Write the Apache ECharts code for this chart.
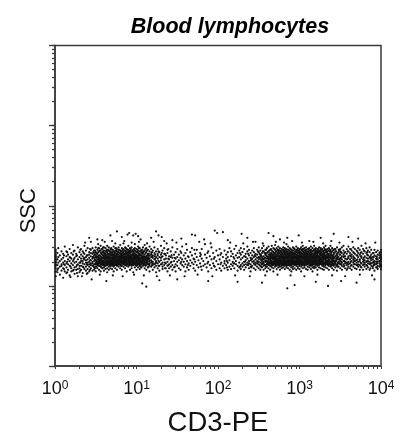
<!DOCTYPE html>
<html><head><meta charset="utf-8">
<style>html,body{margin:0;background:#fff}#c{width:401px;height:432px}</style>
<script src="https://cdn.jsdelivr.net/npm/echarts@6/dist/echarts.min.js"></script></head>
<body><div id="c"></div>
<script>
const titleText = 'Blood lymphocytes';
const xName = 'CD3-PE';
const yName = 'SSC';
const xTickLabels = {1:'0',10:'1',100:'2',1000:'3',10000:'4'};
const decadeTicks = [1,10,100,1000,10000];
const allTicks = [1,2,3,4,5,6,7,8,9,10,20,30,40,50,60,70,80,90,100,200,300,400,500,600,700,800,900,1000,2000,3000,4000,5000,6000,7000,8000,9000,10000];
// Each row: CD3-PE position, then SSC positions, both in hundredths of a decade.
const negativeEvents = [
[1,112,118,122,125,127,129,131,133,135,137,139,142,145],[3,120,126,133,141,117],[4,129,122,147,136],[6,124,131,138,114],[8,127,143,119,133,125],
[10,135,122,129,110,140],[12,118,131,126,149],[14,137,123,128,143,116],[16,133,120,127,139],[18,125,146,131,113,136],
[20,128,122,141,134,118],[22,139,126,131,151,119],[24,123,135,129,144,115],[26,130,124,140,137,120],[28,127,133,148,121,112],
[30,136,122,129,142,125,117],[32,131,125,139,146,120,134],[34,124,137,128,143,116,131],[36,133,127,121,140,135,150],[38,129,144,124,136,119,132],
[40,126,138,133,121,147,129,116],[42,135,130,124,142,127,139,118],[44,128,137,122,145,132,126,141,155],[46,134,125,140,130,119,147,136,128],[48,131,138,123,127,144,135,120,141],
[50,129,136,124,142,132,127,148,118,139],[52,133,126,140,130,137,122,145,128,158],[54,125,135,131,143,128,138,120,147,133],[56,137,129,124,141,134,127,150,118,132,144],[58,130,139,126,135,122,146,132,128,142],
[60,134,127,141,131,137,123,148,129,136,119,144],[62,128,138,133,125,143,130,135,121,147,140],[64,136,131,126,142,128,139,122,134,150,145,117],[66,132,140,127,135,129,144,124,137,120,148],[68,129,136,133,125,141,138,127,131,146,122,143],
[70,135,128,142,131,138,125,134,145,121,140,129],[72,130,137,127,143,133,139,124,135,149,128,118],[74,133,141,129,136,126,131,144,138,122,147,134],[76,128,135,140,132,125,137,143,130,120,146,139],[78,136,130,127,142,134,139,124,132,148,128,145],
[80,131,138,126,135,141,129,133,144,122,137,151],[82,134,128,140,136,131,125,143,138,130,120,147],[84,129,137,133,142,127,135,139,124,146,131,153],[86,135,131,126,140,137,129,144,133,122,148,127],[88,132,139,128,136,143,130,134,125,141,118,146],
[90,137,130,134,127,142,139,132,145,124,136,150],[92,128,135,141,133,129,138,126,144,131,147,120],[94,134,127,139,131,136,143,125,130,148,137,122],[96,130,138,133,128,142,135,126,145,131,140,117],[98,136,129,134,140,127,132,144,138,123,147,152],
[100,131,137,128,135,142,130,139,125,146,133,120],[102,134,129,141,136,127,132,144,138,123,149],[104,128,138,133,130,143,135,125,140,147,121],[106,136,131,127,139,134,145,129,123,142],[108,130,137,133,128,142,125,140,148,135],
[110,134,127,139,131,144,136,122,129,151],[112,129,137,132,142,126,135,147,120],[114,135,130,140,127,133,145,123,138],[116,131,138,126,134,143,128,118,149],[118,136,129,141,132,124,146,139],
[120,128,135,130,144,126,138,120],[122,133,141,127,137,123,148],[124,131,136,125,143,129,117],[126,138,128,134,122,146,140],[128,130,142,125,136,119],
[130,135,127,139,132,150],[132,129,144,124,137,121],[134,133,126,140,147],[136,128,138,122,134],[138,141,130,125,145,118],
[140,133,127,137,122],[142,129,143,124,136],[144,135,126,148,120],[146,131,139,123],[148,127,142,134,118],
[150,136,125,130,146],[152,122,139,132],[154,128,143,120,135],[156,133,126,149],[158,138,124,130],
[160,127,141,134,118],[162,131,123,145],[164,136,128,120],[166,125,142,132],[168,138,129,147],
[170,122,134,127],[172,140,130,119],[174,126,136,145],[176,132,123],[178,128,141,137],
[180,134,120,146],[182,125,131],[184,139,127,152],[186,123,135],[188,130,143,118],
[190,126,137],[192,133,122,148],[194,128,141],[196,136,124],[198,120,131,144]
];
const positiveEvents = [
[200,127,138],[202,133,122,146],[204,129,141,119],[206,136,125],[208,131,144,122,128],
[210,126,139,134],[212,142,129,120,136],[214,132,124,147],[216,137,127,143,121],[218,130,140,125],
[220,134,122,146,128],[222,127,138,131,150],[224,141,125,135,119],[226,129,136,123,144],[228,133,139,126,147,121],
[230,128,142,135,124],[232,137,130,120,146,126],[234,132,140,127,123,136],[236,126,143,134,129,149],[238,138,131,122,145,128],
[240,135,127,141,124,132,118],[242,130,138,144,125,134],[244,128,136,122,142,131,147],[246,133,126,140,137,129,120],[248,139,131,124,145,128,135],
[250,127,136,142,130,122,148,133],[252,134,129,139,125,144,120,137],[254,131,141,127,136,123,147,133,128],[256,137,128,133,143,125,130,150,120],[258,130,139,126,135,145,122,132,141],
[260,134,128,141,131,137,124,147,127,118],[262,129,136,143,132,126,139,122,149,134,128],[264,135,130,125,141,137,128,145,120,133,139],[266,131,138,127,144,134,123,140,129,150,136],[268,137,128,133,142,126,139,130,147,122,135,118],
[270,130,136,141,127,134,124,145,132,139,128,151],[272,134,129,139,125,143,131,137,121,147,127,136],[274,128,137,132,145,126,140,134,123,129,149,142],[276,136,131,127,141,138,124,144,133,129,120,147,135],[278,132,139,128,135,143,125,130,146,137,122,141,127],
[280,129,137,133,126,142,135,139,123,145,131,148,127],[282,135,128,140,132,137,125,144,130,121,147,134,142],[284,131,138,127,136,143,129,134,123,146,140,125,152],[286,137,130,133,141,126,139,128,145,122,135,149,132],[288,133,127,140,136,130,143,125,138,120,147,131,142],
[290,128,135,142,131,138,126,133,145,123,140,136,129,118],[292,136,130,127,141,134,139,124,144,132,148,128,121],[294,132,138,129,135,143,126,140,131,146,122,137,127],[296,130,137,134,127,142,136,125,145,132,139,120,149],[298,135,128,141,133,138,130,144,124,136,147,127,122],
[300,131,139,127,135,142,129,137,125,146,133,121,143,140],[302,136,130,133,141,127,138,145,124,132,148,128,118],[304,129,135,143,131,137,126,140,134,122,146,128,150],[306,134,138,127,141,130,136,144,125,132,147,123,139],[308,130,137,128,135,142,133,126,145,139,121,131,148],
[310,136,131,140,127,134,143,129,138,124,146,133,120],[312,128,135,141,132,137,126,144,130,139,123,147,134],[314,133,139,129,136,142,127,131,145,125,138,121,149],[316,137,130,134,128,143,135,126,140,147,123,132,118],[318,131,138,127,141,133,136,129,145,124,139,122,150],
[320,135,129,142,132,137,126,144,130,140,123,147,134],[322,128,136,133,139,127,143,131,146,125,138,120,141],[324,134,130,141,137,126,144,132,128,148,123,136],[326,132,138,129,135,142,127,145,140,122,131,147],[328,136,131,128,143,134,139,125,146,130,121,137],
[330,129,137,133,141,127,135,144,124,139,148,120],[332,134,130,138,126,142,136,128,145,123,132,150],[334,131,139,135,127,143,129,146,122,137,141],[336,136,128,133,140,125,144,131,147,138,120],[338,130,137,142,127,134,124,145,139,150],
[340,133,129,138,126,143,135,122,147,131],[342,136,131,141,127,125,145,120,134,139],[344,128,137,132,143,123,146,130],[346,135,127,140,133,125,148,119,138],[348,130,142,136,124,128,145,133],
[350,134,127,139,122,146,131,143],[352,129,137,125,141,133,120,148],[354,136,131,124,144,127,139,150],[356,128,134,142,122,137,130],[358,133,126,140,146,129,120],
[360,137,130,124,143,127,135,149],[362,128,141,133,122,138,146],[364,135,126,131,144,120,139],[366,129,137,124,142,133,148],[368,134,127,140,122,131,146],
[370,126,138,132,144,121,129],[372,136,130,124,141,127,147],[374,131,139,126,133,120,145],[376,128,137,123,142,135,150],[378,133,126,140,130,146,120],
[380,137,129,124,143,132,127],[382,130,141,126,135,121,147],[384,134,128,138,123,144,131],[386,127,136,142,130,120,148],[388,132,125,139,135,145,128],
[390,136,129,124,141,133,122],[392,128,138,131,145,126,119],[394,134,127,142,123,137,130],[396,130,139,125,144,133,121],[398,135,128,124,141,131,138],
[400,121,124,127,130,133,136,139,142,145,126,135]
];
// Extra rows for the two dark cores and the band's thinner stretches.
const coreEvents = [
[11,127,138,121],[15,130,117,142],[19,124,135,111],[23,133,143,120],[27,126,138,116],[31,129,119,145],[35,134,123,141],[39,127,138,115],[43,132,120,146],[47,125,136,142],
[49,133,127,139,122,144],[51,128,135,141,124,131,137],[53,136,130,126,142,133,147],[55,129,138,134,125,144,131],[57,133,127,140,136,123,146,130],[59,135,129,143,126,138,131,148],
[61,130,136,127,141,133,125,139],[63,137,132,128,144,126,135,130],[65,129,134,140,127,137,145,131],[67,135,130,143,126,133,139,128],[69,132,138,127,141,129,135,147],[71,136,129,133,145,126,139,131],
[73,128,137,131,142,134,126,140],[75,135,130,127,144,138,132,147],[77,133,139,128,136,142,126,130],[79,129,134,141,137,127,145,132],[81,136,130,127,143,133,139,125],[83,132,138,128,135,145,130,141],
[85,134,127,140,131,137,129,144],[87,130,136,133,142,126,139,147],[89,135,128,132,141,138,127,145],[91,131,137,129,134,143,126,140],[93,136,130,127,142,133,146,138],[95,133,139,128,135,131,144,126],
[97,129,135,141,132,137,127,146],[99,134,130,138,126,143,136,128],[101,132,137,129,142,135,126,145],[103,136,131,127,140,133,147,129],[105,130,138,134,126,143,131,124],[107,135,128,141,132,137,145],
[109,131,137,127,143,134,126],[111,136,129,133,141,125,146],[113,128,138,131,144,134],[115,133,127,140,136,124],[119,130,137,142,126],[123,134,128,139],[127,131,143,125],[131,136,127,141],
[135,129,140,122],[139,134,126,146],[143,130,138],[147,124,135],[155,130,141],[163,126,137],[171,133,145],[179,124,139],[187,128,141],[195,134,125],[203,139,127],[211,131,123],[219,136,128],[227,124,141],[233,130,137],[237,126,140],[241,133,123],[245,138,127],[249,130,143],
[251,126,135,140],[253,132,124,138],[255,128,143,134],[257,135,126,141],[259,131,138,124,145],[261,136,127,142,130],[263,133,139,126,144,129],[265,128,136,141,131,146,125],
[267,134,130,138,126,143,136,128],[269,132,137,127,141,135,146,129],[271,136,129,133,143,126,139,131],[273,130,138,134,127,145,132,141],[275,135,128,141,131,137,126,144],[277,133,139,129,136,143,127,131],
[279,128,135,140,132,137,145,126],[281,136,131,127,143,134,139,129],[283,132,138,129,135,145,127,141],[285,134,130,141,126,137,143,131],[287,129,136,133,144,127,139,132],[289,135,131,128,142,138,126,146],
[291,133,139,127,136,130,144,141],[293,130,135,141,128,137,132,147],[295,136,129,134,143,127,140,131],[297,132,138,128,135,145,130,142],[299,134,127,141,137,131,144,129],[301,129,136,133,142,127,139,146],
[303,135,131,128,144,137,126,140],[305,133,138,129,135,142,127,146],[307,130,136,141,128,134,144,131],[309,135,129,132,143,138,127,140],[311,131,137,128,142,134,146,130],[313,136,130,133,141,127,139,144],
[315,129,135,140,132,137,126,143],[317,134,130,138,127,144,136,131],[319,132,139,129,135,142,127,146],[321,136,128,133,141,130,138,144],[323,130,135,142,127,137,132,146],[325,133,139,129,136,143,128,131],
[327,135,130,127,141,138,133,145],[329,131,137,128,143,134,126,140],[331,136,129,133,141,127,146,138],[333,130,135,142,128,137,144,132],[335,134,128,140,131,137,126],[337,129,136,143,132,127,145],
[339,135,130,141,127,138,125],[341,132,137,128,144,131],[343,135,127,141,130,146],[345,131,138,126,143,134],[347,136,129,124,141],[349,128,139,133,145],[351,135,127,142,130],[355,131,125,141,137],[359,134,128,143,122],[363,130,137,125,146],[367,135,127,141,131],[371,133,126,143,138],[375,129,137,124,141],[379,135,127,132,144],[383,131,139,125,142],[387,134,128,137,122],[391,130,141,126,136],[395,136,128,133,123],[399,131,138,126,142]
];
const sparseEvents = [
[42,160],[58,157],[68,163],[70,156],[76,168],[82,161],[89,164],[91,166],[96,163],[99,165],[102,162],[105,158],[118,160],[124,168],[127,163],[131,161],[134,156],[144,157],[155,159],[168,164],[172,163],[183,158],[196,169],[199,166],[206,167],[212,157],[229,165],[236,160],[246,155],[262,166],[268,162],[276,158],[285,160],[299,163],[312,156],[326,160],[342,165],[360,161],[372,159],
[45,108],[63,106],[107,103],[112,99],[128,107],[150,108],[188,106],[224,105],[254,104],[285,97],[294,101],[320,105],[335,100],[351,106],[370,104],[392,108],
[37,154],[53,152],[61,155],[74,153],[85,156],[94,154],[103,155],[113,153],[121,155],[137,153],[149,154],[161,152],[177,155],[191,153],[215,154],[231,153],[243,155],[255,153],[271,155],[281,154],[291,156],[303,154],[317,155],[329,153],[339,156],[349,154],[365,155],[381,153],[393,154],
[33,112],[55,114],[71,113],[83,112],[97,114],[109,113],[125,112],[141,113],[159,112],[175,114],[193,112],[221,113],[239,112],[258,113],[273,114],[289,113],[306,112],[322,114],[340,113],[356,112],[374,114],[389,113]
];
const toPoints = rows => rows.flatMap(([x, ...ys]) => ys.map(y => [10 ** (x / 100), 10 ** (y / 100)]));
const points = [...toPoints(negativeEvents), ...toPoints(positiveEvents), ...toPoints(coreEvents), ...toPoints(sparseEvents)];

const chart = echarts.init(document.getElementById('c'), null, {renderer: 'canvas'});
const font = '"Liberation Sans", Arial, sans-serif';
const lineColor = '#3a3a3a';
chart.setOption({
  animation: false,
  backgroundColor: '#fff',
  title: {text: titleText, left: 225, top: 11, textAlign: 'center',
    textStyle: {fontFamily: font, fontSize: 21.5, fontWeight: 'bold', fontStyle: 'italic', color: '#000'}},
  grid: {left: 55, right: 20, top: 45.5, bottom: 66, outerBoundsMode: 'none', show: true, borderColor: lineColor, borderWidth: 1.5, backgroundColor: '#fff'},
  xAxis: {type: 'log', logBase: 10, min: 1, max: 10000, name: xName, nameLocation: 'middle', nameGap: 43,
    nameTextStyle: {fontFamily: font, fontSize: 27.5, color: '#111'},
    axisLine: {show: true, lineStyle: {color: lineColor, width: 1.5}},
    axisTick: {show: true, length: 3, customValues: allTicks, lineStyle: {color: lineColor, width: 1}},
    axisLabel: {show: true, margin: 14, customValues: decadeTicks, hideOverlap: false,
      formatter: v => '{b|10}{s|' + xTickLabels[Math.round(v)] + '}',
      rich: {b: {fontFamily: font, fontSize: 18, color: '#111'},
             s: {fontFamily: font, fontSize: 12, color: '#111', verticalAlign: 'top'}}},
    splitLine: {show: false}, minorTick: {show: false}},
  yAxis: [{type: 'log', logBase: 10, min: 1, max: 10000, name: yName, nameLocation: 'middle', nameGap: 15,
    nameTextStyle: {fontFamily: font, fontSize: 22, color: '#111', padding: [0, 10, 0, 0]},
    axisLine: {show: true, lineStyle: {color: lineColor, width: 1.5}},
    axisTick: {show: true, length: 3, customValues: allTicks, lineStyle: {color: lineColor, width: 1.3}},
    axisLabel: {show: false}, splitLine: {show: false}},
   {type: 'log', logBase: 10, min: 1, max: 10000, position: 'left',
    axisLine: {show: false},
    axisTick: {show: true, length: 6, customValues: decadeTicks, lineStyle: {color: lineColor, width: 1.3}},
    axisLabel: {show: false}, splitLine: {show: false}}],
  series: [{type: 'scatter', data: points, symbol: 'circle', symbolSize: 2.2, itemStyle: {color: '#111', opacity: 1},
    large: false, progressive: 0, silent: true}]
});
</script></body></html>
